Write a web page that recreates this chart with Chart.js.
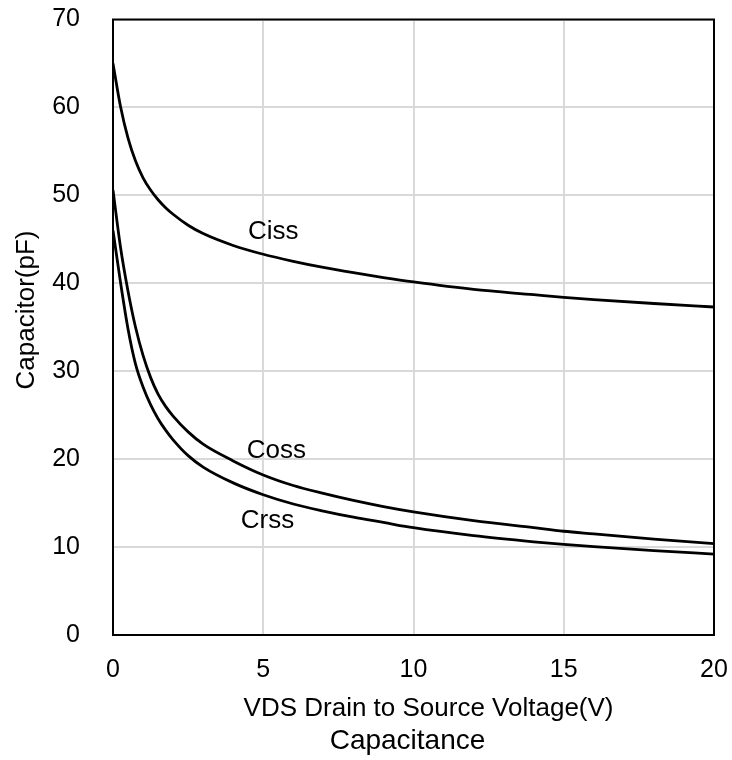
<!DOCTYPE html>
<html>
<head>
<meta charset="utf-8">
<script src="https://cdn.jsdelivr.net/npm/chart.js@4.4.1/dist/chart.umd.min.js"></script>
<style>
  html, body { margin: 0; padding: 0; background: #fff; }
  #wrap { width: 732px; height: 760px; }
</style>
</head>
<body>
<div id="wrap"><canvas id="c" width="732" height="760"></canvas></div>
<script>
// Drain-source voltage sample points (V)
const vds = [0, 0.25, 0.5, 0.75, 1.0, 1.25, 1.5, 1.75, 2.0, 2.5, 3, 4, 5, 6, 7, 8, 9, 10, 12, 14, 15, 16, 18, 20];

// Capacitance curves (pF)
const ciss = [65.0, 60.1, 56.5, 53.9, 52.0, 50.6, 49.5, 48.6, 47.85, 46.6, 45.65, 44.3, 43.3, 42.5, 41.8, 41.2, 40.65, 40.15, 39.3, 38.7, 38.4, 38.15, 37.7, 37.3];
const coss = [50.6, 44.1, 39.1, 35.0, 31.8, 29.3, 27.4, 26.0, 24.9, 23.1, 21.7, 19.8, 18.2, 17.0, 16.1, 15.3, 14.6, 14.0, 13.0, 12.2, 11.8, 11.5, 10.9, 10.4];
const crss = [46.0, 40.1, 34.8, 30.8, 28.2, 26.2, 24.6, 23.3, 22.2, 20.4, 19.1, 17.3, 15.95, 14.9, 14.1, 13.4, 12.8, 12.2, 11.3, 10.6, 10.3, 10.05, 9.6, 9.2];

// Curve name labels: [text, V, pF]
const curveLabels = [
  ['Ciss', 4.49, 45.9],
  ['Coss', 4.45, 20.9],
  ['Crss', 4.25, 13.0]
];

const xTicks = [0, 5, 10, 15, 20];
const yTicks = [0, 10, 20, 30, 40, 50, 60, 70];

const xTitle = 'VDS Drain to Source Voltage(V)';
const yTitle = 'Capacitor(pF)';
const chartTitle = 'Capacitance';

const FONT = 'Arial, "Liberation Sans", sans-serif';

function pts(ys) { return vds.map((v, i) => ({ x: v, y: ys[i] })); }

function lineSet(label, ys) {
  return {
    label,
    data: pts(ys),
    borderColor: '#000',
    borderWidth: 2.8,
    pointRadius: 0,
    fill: false,
    cubicInterpolationMode: 'monotone'
  };
}

// Frame around the plot area, curve names, axis titles and the caption
const framePlugin = {
  id: 'frame',
  afterDatasetsDraw(chart) {
    const { ctx, chartArea: a, scales } = chart;
    ctx.save();
    ctx.strokeStyle = '#000';
    ctx.lineWidth = 2;
    ctx.strokeRect(a.left, a.top, a.right - a.left, a.bottom - a.top);

    ctx.fillStyle = '#000';
    ctx.font = '26px ' + FONT;
    ctx.textAlign = 'left';
    ctx.textBaseline = 'middle';
    curveLabels.forEach(([t, v, c]) => {
      ctx.fillText(t, scales.x.getPixelForValue(v), scales.y.getPixelForValue(c));
    });

    ctx.textAlign = 'center';
    ctx.font = '26px ' + FONT;
    ctx.fillText(xTitle, a.left + (a.right - a.left) * 0.525, a.bottom + 74);
    ctx.font = '28px ' + FONT;
    ctx.fillText(chartTitle, a.left + (a.right - a.left) * 0.49, a.bottom + 106);

    ctx.save();
    ctx.translate(27, a.top + (a.bottom - a.top) * 0.472);
    ctx.rotate(-Math.PI / 2);
    ctx.font = '26px ' + FONT;
    ctx.fillText(yTitle, 0, 0);
    ctx.restore();

    ctx.restore();
  }
};

function noPad(s) {
  s.paddingTop = 0; s.paddingBottom = 0; s.paddingLeft = 0; s.paddingRight = 0;
}

new Chart(document.getElementById('c'), {
  type: 'line',
  data: {
    datasets: [lineSet('Ciss', ciss), lineSet('Coss', coss), lineSet('Crss', crss)]
  },
  options: {
    responsive: false,
    animation: false,
    devicePixelRatio: 1,
    layout: { padding: { top: 19.5, right: 18, left: 0, bottom: 0 } },
    plugins: {
      legend: { display: false },
      tooltip: { enabled: false },
      title: { display: false }
    },
    scales: {
      x: {
        type: 'linear',
        min: 0, max: 20,
        afterBuildTicks(s) { s.ticks = xTicks.map(v => ({ value: v })); },
        afterFit(s) { s.height = 125; noPad(s); },
        ticks: { color: '#000', font: { family: FONT, size: 25 }, padding: 20, maxRotation: 0 },
        grid: { color: '#d9d9d9', lineWidth: 2, drawTicks: false },
        border: { display: false }
      },
      y: {
        type: 'linear',
        min: 0, max: 70,
        afterBuildTicks(s) { s.ticks = yTicks.map(v => ({ value: v })); },
        afterFit(s) { s.width = 113; noPad(s); },
        ticks: { color: '#000', font: { family: FONT, size: 25 }, padding: 33 },
        grid: { color: '#d9d9d9', lineWidth: 2, drawTicks: false },
        border: { display: false }
      }
    }
  },
  plugins: [framePlugin]
});
</script>
</body>
</html>
